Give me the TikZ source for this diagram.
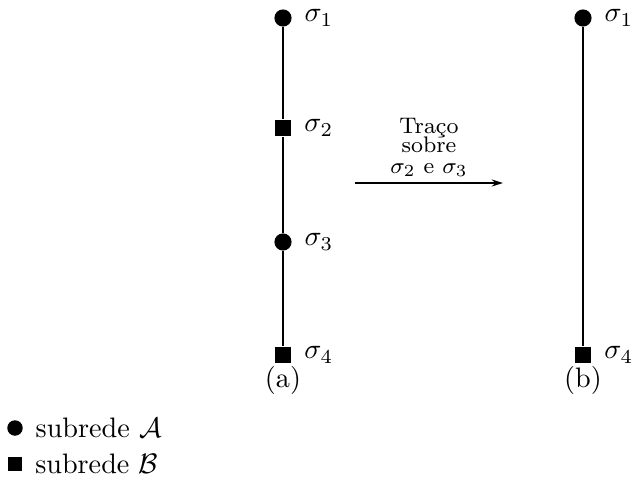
\documentclass[tikz,border=0pt]{standalone}
\usepackage{amsmath}
\usepackage{tikz}
\usetikzlibrary{positioning, arrows.meta, calc}

\tikzset{
  sitea/.style={circle, fill=black, inner sep=0pt, minimum size=6.1pt},
  siteb/.style={rectangle, fill=black, inner sep=0pt, minimum size=6pt},
  lbl/.style={right=4pt, inner sep=0pt}
}

\begin{document}
\begin{tikzpicture}[x=0.355pt, y=-0.355pt, line width=0.6pt]
        \useasboundingbox (0,0) rectangle (631,487);
        % cadeia original
        \node[sitea] (a1) at (283,18) {};
        \node[siteb] (a2) at (283,128) {};
        \node[sitea] (a3) at (283,242) {};
        \node[siteb] (a4) at (283,355) {};
        \draw (a1) -- (a2) -- (a3) -- (a4);
        \node[lbl] at (a1.east) {$\sigma_1$};
        \node[lbl] at (a2.east) {$\sigma_2$};
        \node[lbl] at (a3.east) {$\sigma_3$};
        \node[lbl] at (a4.east) {$\sigma_4$};
        \node (capa) at (283,380) {(a)};
        % cadeia reduzida
        \node[sitea] (b1) at (583,18) {};
        \node[siteb] (b4) at (583,355) {};
        \draw (b1) -- (b4);
        \node[lbl] at (b1.east) {$\sigma_1$};
        \node[lbl] at (b4.east) {$\sigma_4$};
        \node (capb) at (583,380) {(b)};
        % traco
        \coordinate (ini) at (355,183);
        \coordinate (fim) at (503,183);
        \draw[-{Stealth[length=4pt, width=2.5pt]}] (ini) -- (fim);
        \node[above=1pt, align=center, font=\footnotesize, inner sep=1pt]
          at ($(ini)!0.5!(fim)$) {Traço\\[-3pt]sobre\\[-2pt]$\sigma_2$ e $\sigma_3$};
        % legenda
        \node[sitea, minimum size=5.5pt] (leg1) at (15,428) {};
        \node[lbl, right=4pt of leg1] {subrede $\mathcal{A}$};
        \node[siteb, minimum size=5.2pt] (leg2) at (15,464) {};
        \node[lbl, right=4pt of leg2] {subrede $\mathcal{B}$};
      \end{tikzpicture}
\end{document}
